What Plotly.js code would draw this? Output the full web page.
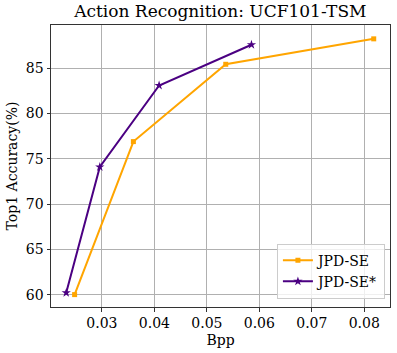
<!DOCTYPE html>
<html>
<head>
<meta charset="utf-8">
<script src="https://cdn.plot.ly/plotly-3.0.1.min.js"></script>
<style>html,body{margin:0;padding:0;background:#fff;}#chart{width:397px;height:353px;}</style>
</head>
<body>
<div id="chart"></div>
<script>
const seriesNames = ["JPD-SE", "JPD-SE*"];
const jpdseBpp = [0.0248, 0.0360, 0.0536, 0.0818];
const jpdseAcc = [60.0, 76.9, 85.44, 88.25];
const jpdseStarBpp = [0.0232, 0.0296, 0.0409, 0.0585];
const jpdseStarAcc = [60.2, 74.1, 83.1, 87.6];
const xTicks = [0.03, 0.04, 0.05, 0.06, 0.07, 0.08];
const xTickText = ["0.03", "0.04", "0.05", "0.06", "0.07", "0.08"];
const yTicks = [60, 65, 70, 75, 80, 85];

const font = "DejaVu Serif, serif";
const traces = [
  {x: jpdseBpp, y: jpdseAcc, name: seriesNames[0], mode: "lines+markers",
   line: {color: "#FFA500", width: 2}, marker: {symbol: "square", size: 5, color: "#FFA500"}},
  {x: jpdseStarBpp, y: jpdseStarAcc, name: seriesNames[1], mode: "lines+markers",
   line: {color: "#4B0082", width: 2}, marker: {symbol: "star", size: 7, color: "#4B0082"}}
];
const layout = {
  width: 397, height: 353,
  margin: {l: 51, r: 7, t: 25, b: 46},
  paper_bgcolor: "#fff", plot_bgcolor: "#fff",
  font: {family: font, size: 14, color: "#000"},
  title: {text: "Action Recognition: UCF101-TSM", font: {family: font, size: 17, color: "#000"},
          x: 0.555, xanchor: "center", y: 1, yref: "container", yanchor: "top", pad: {t: 5}},
  xaxis: {range: [0.0203, 0.0849], tickvals: xTicks, ticktext: xTickText,
          showgrid: true, gridcolor: "#b0b0b0", gridwidth: 1,
          showline: true, linecolor: "#333", linewidth: 1, mirror: true,
          ticks: "outside", ticklen: 3.5, tickcolor: "#333", zeroline: false,
          tickfont: {family: font, size: 14},
          title: {text: "Bpp", font: {family: font, size: 14}, standoff: 4}},
  yaxis: {range: [58.63, 89.78], tickvals: yTicks,
          showgrid: true, gridcolor: "#b0b0b0", gridwidth: 1,
          showline: true, linecolor: "#333", linewidth: 1, mirror: true,
          ticks: "outside", ticklen: 3.5, tickcolor: "#333", zeroline: false,
          tickfont: {family: font, size: 14},
          title: {text: "Top1 Accuracy(%)", font: {family: font, size: 14}, standoff: 4}},
  showlegend: true,
  legend: {x: 0.985, y: 0.03, xanchor: "right", yanchor: "bottom",
           bgcolor: "rgba(255,255,255,0.8)", bordercolor: "#ccc", borderwidth: 1,
           font: {family: font, size: 14}, tracegroupgap: 2}
};
Plotly.newPlot("chart", traces, layout, {displayModeBar: false, staticPlot: true});
</script>
</body>
</html>
